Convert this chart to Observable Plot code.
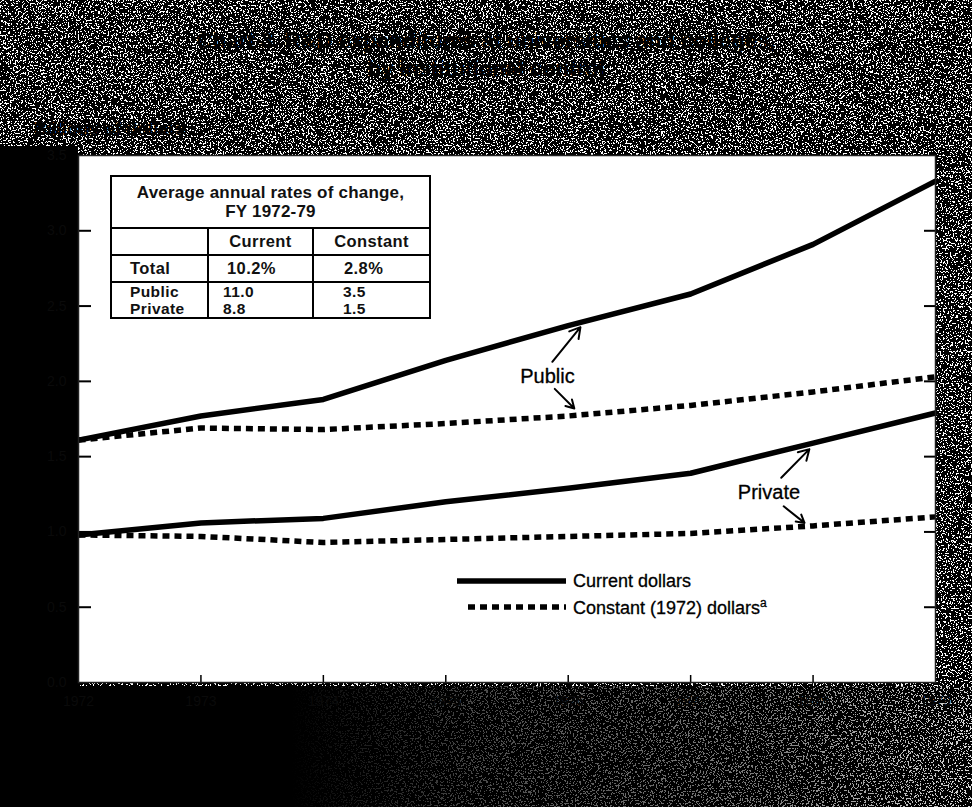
<!DOCTYPE html>
<html>
<head>
<meta charset="utf-8">
<script src="https://cdn.jsdelivr.net/npm/d3@7"></script>
<script src="https://cdn.jsdelivr.net/npm/@observablehq/plot@0.6"></script>
<style>
  html, body { margin: 0; padding: 0; background: #000; }
  #page { position: relative; width: 972px; height: 807px; overflow: hidden; font-family: "Liberation Sans", Arial, Helvetica, sans-serif; background: #555; }
  .abs { position: absolute; }
  #noise { left: 0; top: 0; width: 972px; height: 807px; }
  #blackLeft { left: 0; top: 146px; width: 78px; height: 661px; background: #000; }
  #blackBottom { left: 0; top: 686px; width: 972px; height: 121px;
    background: linear-gradient(to right, #000 0%, #000 30%, rgba(0,0,0,0.7) 50%, rgba(0,0,0,0.5) 80%, rgba(0,0,0,0.15) 100%); }
  #title { left: 0; top: 27px; width: 972px; text-align: center; font-weight: bold; font-size: 22px; line-height: 28px; color: #000; }
  #ylabel { left: 34px; top: 119px; font-weight: bold; font-size: 18px; color: #000; }
  #chart { left: 0; top: 135px; }
  #inset { left: 110px; top: 175px; border-collapse: collapse; font-size: 16.5px; font-weight: bold; letter-spacing: 0.4px; color: #111; background: #fff; }
  #inset td { border: 2px solid #000; padding: 0; white-space: nowrap; }
  #inset .head { text-align: center; line-height: 19px; height: 50px; font-size: 17px; letter-spacing: 0.2px; }
  #inset td.two { vertical-align: top; padding-top: 0px; font-size: 15.5px; line-height: 17px; }
  #legend { left: 457px; top: 568px; font-size: 18px; color: #000; -webkit-text-stroke: 0.3px #000; }
  .lg { display: flex; align-items: center; height: 26px; }
  .lg svg { margin-right: 6px; }
</style>
</head>
<body>
<div id="page">
  <div id="noise" class="abs"></div>
  <div id="blackLeft" class="abs"></div>
  <div id="blackBottom" class="abs"></div>
  <div id="title" class="abs"></div>
  <div id="ylabel" class="abs"></div>
  <div id="chart" class="abs"></div>
  <table id="inset" class="abs"></table>
  <div id="legend" class="abs"></div>
</div>
<script>
// ---- data ----
const titleLines = ["Chart 3. R&D expenditures at universities and colleges,", "by institutional control"];
const yAxisLabel = "Billions of dollars";
const years = [1972, 1973, 1974, 1975, 1976, 1977, 1978, 1979];
const publicCurrent   = [1.61, 1.77, 1.88, 2.14, 2.37, 2.58, 2.91, 3.33];
const publicConstant  = [1.61, 1.69, 1.68, 1.72, 1.77, 1.84, 1.93, 2.03];
const privateCurrent  = [0.98, 1.06, 1.09, 1.20, 1.29, 1.39, 1.59, 1.79];
const privateConstant = [0.98, 0.97, 0.93, 0.95, 0.97, 0.99, 1.04, 1.10];
const yTicks = [0, 0.5, 1, 1.5, 2, 2.5, 3, 3.5];
const legendLabels = ["Current dollars", "Constant (1972) dollars"];
const legendNote = "a";
const insetTitle = ["Average annual rates of change,", "FY 1972-79"];
const insetColumns = ["", "Current", "Constant"];
const insetRows = ["Total", "Public", "Private"];
const insetCurrent = ["10.2%", "11.0", "8.8"];
const insetConstant = ["2.8%", "3.5", "1.5"];
const seriesLabels = ["Public", "Private"];
// annotation positions in data space (year, billions)
const labelYears = [1975.83, 1977.64];
const labelValues = [2.03, 1.26];
const arrowFrom = [[1975.87, 2.13], [1975.89, 1.95], [1977.74, 1.36], [1977.76, 1.17]];
const arrowTo   = [[1976.1, 2.36], [1976.05, 1.82], [1977.97, 1.55], [1977.93, 1.06]];

// ---- background speckle ----
const noiseSvg = `<svg xmlns='http://www.w3.org/2000/svg' width='972' height='807'><filter id='f' x='0' y='0' width='100%' height='100%'><feTurbulence type='fractalNoise' baseFrequency='0.6' numOctaves='2' seed='7'/><feColorMatrix type='matrix' values='1 0 0 0 0 1 0 0 0 0 1 0 0 0 0 0 0 0 0 1'/><feComponentTransfer><feFuncR type='linear' slope='5' intercept='-2.45'/><feFuncG type='linear' slope='5' intercept='-2.45'/><feFuncB type='linear' slope='5' intercept='-2.45'/></feComponentTransfer><feComponentTransfer><feFuncR type='discrete' tableValues='0 1'/><feFuncG type='discrete' tableValues='0 1'/><feFuncB type='discrete' tableValues='0 1'/></feComponentTransfer></filter><rect width='972' height='807' filter='url(%23f)'/></svg>`;
document.getElementById("noise").style.background =
  `url("data:image/svg+xml;utf8,${noiseSvg.replace(/</g, "%3C").replace(/>/g, "%3E").replace(/"/g, "'")}")`;

// ---- titles ----
document.getElementById("title").innerHTML = titleLines.join("<br>");
document.getElementById("ylabel").textContent = yAxisLabel;

// ---- data tables for Plot ----
const rows = (vals, group, kind) => years.map((yr, i) => ({year: yr, value: vals[i], group, kind}));
const solid = [...rows(publicCurrent, "Public", "current"), ...rows(privateCurrent, "Private", "current")];
const dashed = [...rows(publicConstant, "Public", "constant"), ...rows(privateConstant, "Private", "constant")];
const labels = seriesLabels.map((t, i) => ({text: t, x: labelYears[i], y: labelValues[i]}));
const arrows = arrowFrom.map((f, i) => ({x1: f[0], y1: f[1], x2: arrowTo[i][0], y2: arrowTo[i][1]}));
const innerTicks = yTicks.slice(1, -1);

const chart = Plot.plot({
  width: 972,
  height: 672,
  marginLeft: 78,
  marginRight: 37,
  marginTop: 20,
  marginBottom: 125,
  style: {background: "transparent", fontFamily: "Liberation Sans, Arial, sans-serif"},
  x: {domain: [1972, 1979], label: null},
  y: {domain: [0, 3.5], label: null},
  marks: [
    Plot.frame({fill: "white", stroke: null}),
    Plot.axisY({anchor: "left", ticks: yTicks, tickSize: 0, tickPadding: 12, fill: "#0a0a0a", fontSize: 14, label: null}),
    Plot.axisX({anchor: "bottom", ticks: years, tickSize: 0, tickPadding: 14, tickFormat: d => String(d), fill: "#0a0a0a", fontSize: 14, label: null}),
    Plot.axisY({anchor: "left", ticks: innerTicks, tickSize: -13, tickFormat: () => "", strokeWidth: 2, stroke: "#000", label: null}),
    Plot.axisY({anchor: "right", ticks: innerTicks, tickSize: -12, tickFormat: () => "", strokeWidth: 2, stroke: "#000", label: null}),
    Plot.axisX({anchor: "bottom", ticks: years.slice(1, -1), tickSize: -7, tickFormat: () => "", strokeWidth: 1.5, stroke: "#000", label: null}),
    Plot.line(dashed, {x: "year", y: "value", z: "group", stroke: "#000", strokeWidth: 5.5, strokeDasharray: "7,5", strokeLinecap: "butt"}),
    Plot.line(solid, {x: "year", y: "value", z: "group", stroke: "#000", strokeWidth: 5.5, strokeLinejoin: "round"}),
    Plot.arrow(arrows, {x1: "x1", y1: "y1", x2: "x2", y2: "y2", stroke: "#000", strokeWidth: 2, headLength: 9}),
    Plot.text(labels, {x: "x", y: "y", text: "text", fontSize: 20, fill: "#000", stroke: "#000", strokeWidth: 0.3}),
    Plot.frame({stroke: "#222", strokeWidth: 1.5})
  ]
});
document.getElementById("chart").appendChild(chart);

// ---- inset table ----
const tbl = document.getElementById("inset");
tbl.innerHTML =
  `<tr><td class="head" colspan="3">${insetTitle.join("<br>")}</td></tr>` +
  `<tr style="height:27px">${insetColumns.map((c, i) => `<td style="width:${[95, 103, 115][i]}px;text-align:center">${c}</td>`).join("")}</tr>` +
  `<tr style="height:27px"><td style="padding-left:18px">${insetRows[0]}</td><td style="padding-left:18px">${insetCurrent[0]}</td><td style="padding-left:30px">${insetConstant[0]}</td></tr>` +
  `<tr style="height:35px"><td class="two" style="padding-left:18px">${insetRows[1]}<br>${insetRows[2]}</td><td class="two" style="padding-left:14px">${insetCurrent[1]}<br>${insetCurrent[2]}</td><td class="two" style="padding-left:29px">${insetConstant[1]}<br>${insetConstant[2]}</td></tr>`;

// ---- legend ----
const lg = document.getElementById("legend");
lg.innerHTML =
  `<div class="lg"><svg width="110" height="10"><line x1="0" x2="109" y1="5" y2="5" stroke="#000" stroke-width="5.5"/></svg><span>${legendLabels[0]}</span></div>` +
  `<div class="lg"><svg width="110" height="10"><line x1="11" x2="109" y1="5" y2="5" stroke="#000" stroke-width="5.5" stroke-dasharray="7,5"/></svg><span>${legendLabels[1]}<sup style="font-size:12px">${legendNote}</sup></span></div>`;
</script>
</body>
</html>
